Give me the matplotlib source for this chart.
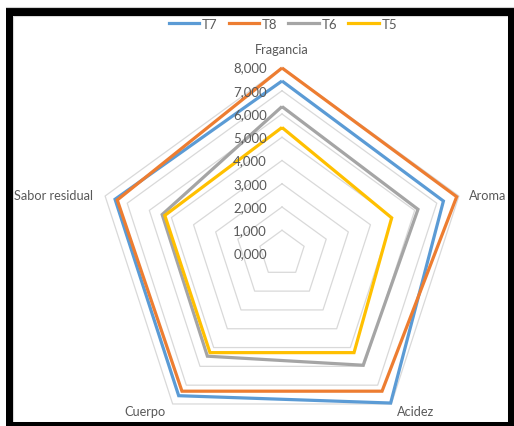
import numpy as np
import matplotlib
matplotlib.use("Agg")
import matplotlib.pyplot as plt
from matplotlib.patches import Rectangle
from matplotlib.lines import Line2D
from matplotlib.transforms import offset_copy

plt.rcParams['font.family'] = ['Lato', 'DejaVu Sans']

categories = ["Fragancia", "Aroma", "Acidez", "Cuerpo", "Sabor residual"]
series_names = ["T7", "T8", "T6", "T5"]
t7 = [7.42, 7.30, 7.95, 7.56, 7.55]
t8 = [7.98, 7.90, 7.32, 7.32, 7.45]
t6 = [6.32, 6.15, 5.94, 5.46, 5.42]
t5 = [5.42, 4.96, 5.27, 5.27, 5.30]
tick_values = [0, 1, 2, 3, 4, 5, 6, 7, 8]
tick_labels = ["0,000", "1,000", "2,000", "3,000", "4,000", "5,000", "6,000", "7,000", "8,000"]

colors = ["#5B9BD5", "#ED7D31", "#A5A5A5", "#FFC000"]
text_color = "#595959"
grid_color = "#D9D9D9"

W, H = 514, 427
fig = plt.figure(figsize=(W / 100, H / 100), dpi=100)
fig.patch.set_facecolor("white")

def fx(px):
    return px / W

def fy(py):
    return (H - py) / H

# polar axes: center (282, 254.5) px, radius 186 px for value 8
cx, cy, R = 282, 254.5, 186
ax = fig.add_axes([fx(cx - R), fy(cy + R), 2 * R / W, 2 * R / H], projection="polar")
ax.set_theta_offset(np.pi / 2)
ax.set_theta_direction(-1)
ax.set_ylim(0, 8)
ax.grid(False)
ax.set_xticks([])
ax.set_yticks([])
ax.spines["polar"].set_visible(False)
ax.patch.set_alpha(0)

n = len(categories)
angles = np.linspace(0, 2 * np.pi, n, endpoint=False)
closed_angles = np.concatenate([angles, angles[:1]])

# pentagonal gridlines
for v in tick_values[1:]:
    ax.plot(closed_angles, [v] * (n + 1), color=grid_color, lw=0.9, zorder=1, clip_on=False)

for name, vals, c in zip(series_names, [t7, t8, t6, t5], colors):
    vv = list(vals) + [vals[0]]
    ax.plot(closed_angles, vv, color=c, lw=2.3, solid_joinstyle="miter",
            solid_capstyle="butt", zorder=3, clip_on=False, label=name)

# radial tick labels along the Fragancia axis
tr = offset_copy(ax.transData, fig=fig, x=-15, y=0, units="dots")
for v, lab in zip(tick_values, tick_labels):
    ax.text(angles[0], v, lab, transform=tr, ha="right", va="center",
            fontsize=9.5, color=text_color, zorder=4)

# category labels
offsets = [(0, 19, "center"), (10, 1, "left"), (24, -7, "center"),
           (-28, -7, "center"), (-12, 1, "right")]
for a, lab, (dx, dy, ha) in zip(angles, categories, offsets):
    t = offset_copy(ax.transData, fig=fig, x=dx, y=dy, units="dots")
    ax.text(a, 8, lab, transform=t, ha=ha, va="center", fontsize=9.2,
            color=text_color, zorder=4)

# legend
handles = [Line2D([0], [0], color=c, lw=2.3) for c in colors]
fig.legend(handles, series_names, loc="center", bbox_to_anchor=(fx(283), fy(25)),
           ncol=4, frameon=False, fontsize=9.5, handlelength=2.3,
           handletextpad=0.2, columnspacing=0.85, labelcolor=text_color)

# frame: thin gray chart border and thick black outer frame
fig.add_artist(Rectangle((fx(13), fy(422.5)), (507.5 - 13) / W, (422.5 - 16.5) / H,
                         transform=fig.transFigure, fill=False, ec=grid_color, lw=0.8))
for (x0, y0, x1, y1) in [(6, 9, 13, 427), (6, 9, 514, 16.5), (508, 9, 514, 427), (6, 423, 514, 427)]:
    fig.add_artist(Rectangle((fx(x0), fy(y1)), (x1 - x0) / W, (y1 - y0) / H,
                             transform=fig.transFigure, fc="black", ec="none"))
fig.add_artist(Line2D([fx(6), fx(514)], [fy(8.3), fy(8.3)], transform=fig.transFigure,
                      color="#D0D0D0", lw=0.8))

fig.savefig("out.png", dpi=100, facecolor="white")
